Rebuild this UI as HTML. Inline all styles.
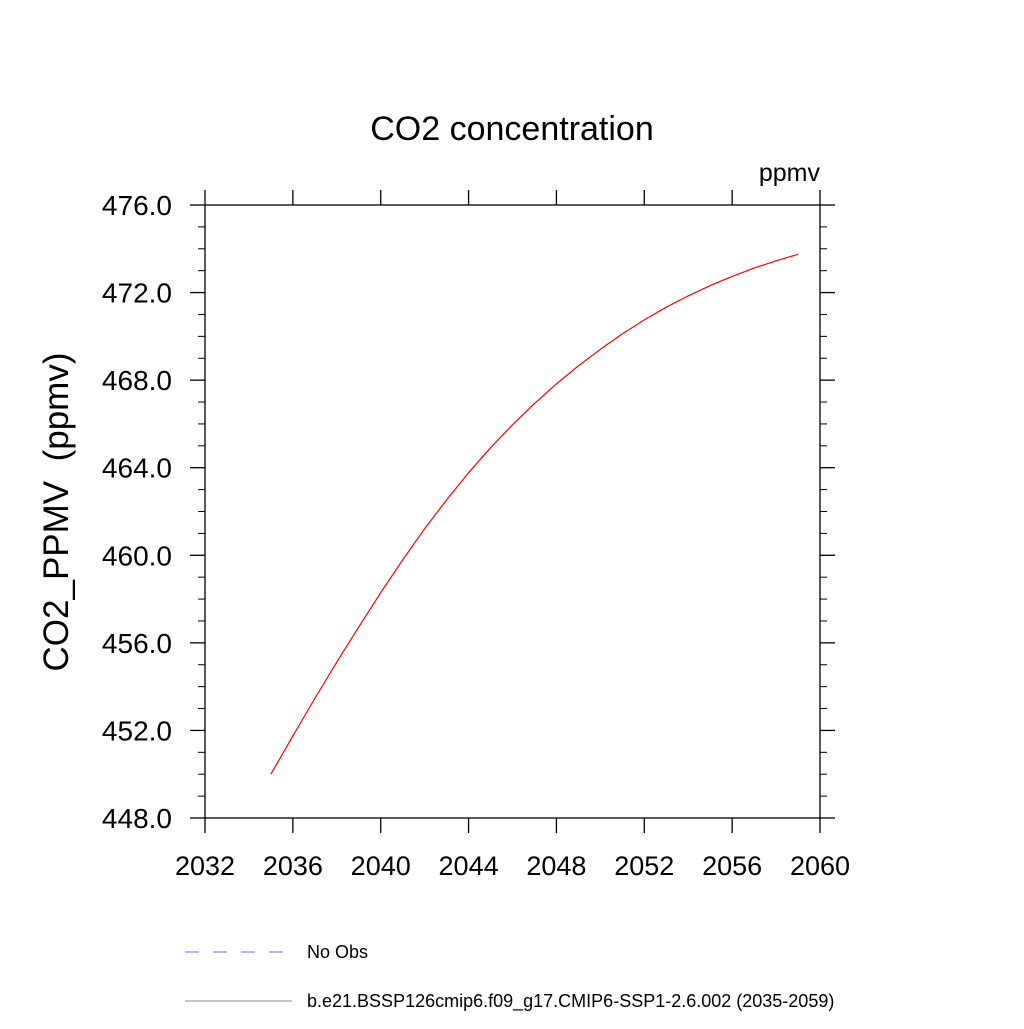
<!DOCTYPE html>
<html><head><meta charset="utf-8"><style>
html,body{margin:0;padding:0;background:#fff;}
svg text{font-family:"Liberation Sans",sans-serif;}
</style></head><body>
<svg id="chart" width="1024" height="1024" xmlns="http://www.w3.org/2000/svg">
<text x="512" y="140" font-size="34" text-anchor="middle">CO2 concentration</text>
<text x="820" y="181" font-size="25" text-anchor="end">ppmv</text>
<text transform="translate(68,512) rotate(-90)" font-size="35" text-anchor="middle" xml:space="preserve">CO2_PPMV  (ppmv)</text>
<g id="axes"></g>
<g id="series"></g>
<g>
<line x1="185" y1="952" x2="292" y2="952" stroke="#6b6bff" stroke-width="1" stroke-dasharray="14,14"/>
<text x="307" y="958" font-size="18">No Obs</text>
<line x1="185" y1="1001" x2="292" y2="1001" stroke="#888" stroke-width="1"/>
<text x="307" y="1007" font-size="18">b.e21.BSSP126cmip6.f09_g17.CMIP6-SSP1-2.6.002 (2035-2059)</text>
</g>
</svg>
<script>
const years=[2035,2036,2037,2038,2039,2040,2041,2042,2043,2044,2045,2046,2047,2048,2049,2050,2051,2052,2053,2054,2055,2056,2057,2058,2059];
const co2=[450.0,451.75,453.46,455.12,456.73,458.29,459.79,461.21,462.53,463.77,464.91,465.96,466.93,467.83,468.65,469.41,470.11,470.75,471.33,471.85,472.32,472.74,473.12,473.45,473.75];
const xTicks=[2032,2036,2040,2044,2048,2052,2056,2060];
const yTicks=[448,452,456,460,464,468,472,476];
const NS="http://www.w3.org/2000/svg";
const L=205,R=820,T=205,B=818;
const xMin=2032,xMax=2060,yMin=448,yMax=476;
const xs=v=>L+(v-xMin)/(xMax-xMin)*(R-L);
const ys=v=>B-(v-yMin)/(yMax-yMin)*(B-T);
const ax=document.getElementById('axes');
function mk(tag,attrs,parent){const e=document.createElementNS(NS,tag);for(const k in attrs)e.setAttribute(k,attrs[k]);parent.appendChild(e);return e;}
const frame=mk('rect',{x:L,y:T,width:R-L,height:B-T,fill:'none',stroke:'#000','stroke-width':1.3},ax);


xTicks.forEach(v=>{const x=xs(v);
 const t1=mk('line',{x1:x,y1:B,x2:x,y2:B+15,stroke:'#000','stroke-width':1.3},ax);
 
 
 const t2=mk('line',{x1:x,y1:T,x2:x,y2:T-15,stroke:'#000','stroke-width':1.3},ax);
 
 
 const tx=mk('text',{x:x,y:B+57,'font-size':27,'text-anchor':'middle'},ax);tx.textContent=v;
 
 
});
for(let v=yMin;v<=yMax;v++){const y=ys(v);const major=(v-yMin)%4===0;const len=major?15:7;
 const t1=mk('line',{x1:L,y1:y,x2:L-len,y2:y,stroke:'#000','stroke-width':major?1.3:1},ax);
 
 
 const t2=mk('line',{x1:R,y1:y,x2:R+len,y2:y,stroke:'#000','stroke-width':major?1.3:1},ax);
 
 
}
yTicks.forEach(v=>{const tx=mk('text',{x:L-33,y:ys(v)+10,'font-size':28,'text-anchor':'end'},ax);tx.textContent=v.toFixed(1);
 
 
});
const pts=years.map((y,i)=>xs(y).toFixed(1)+','+ys(co2[i]).toFixed(1)).join(' ');
const line=mk('polyline',{points:pts,fill:'none',stroke:'#f00','stroke-width':1.2,'stroke-linejoin':'round'},document.getElementById('series'));


</script>
</body></html>
